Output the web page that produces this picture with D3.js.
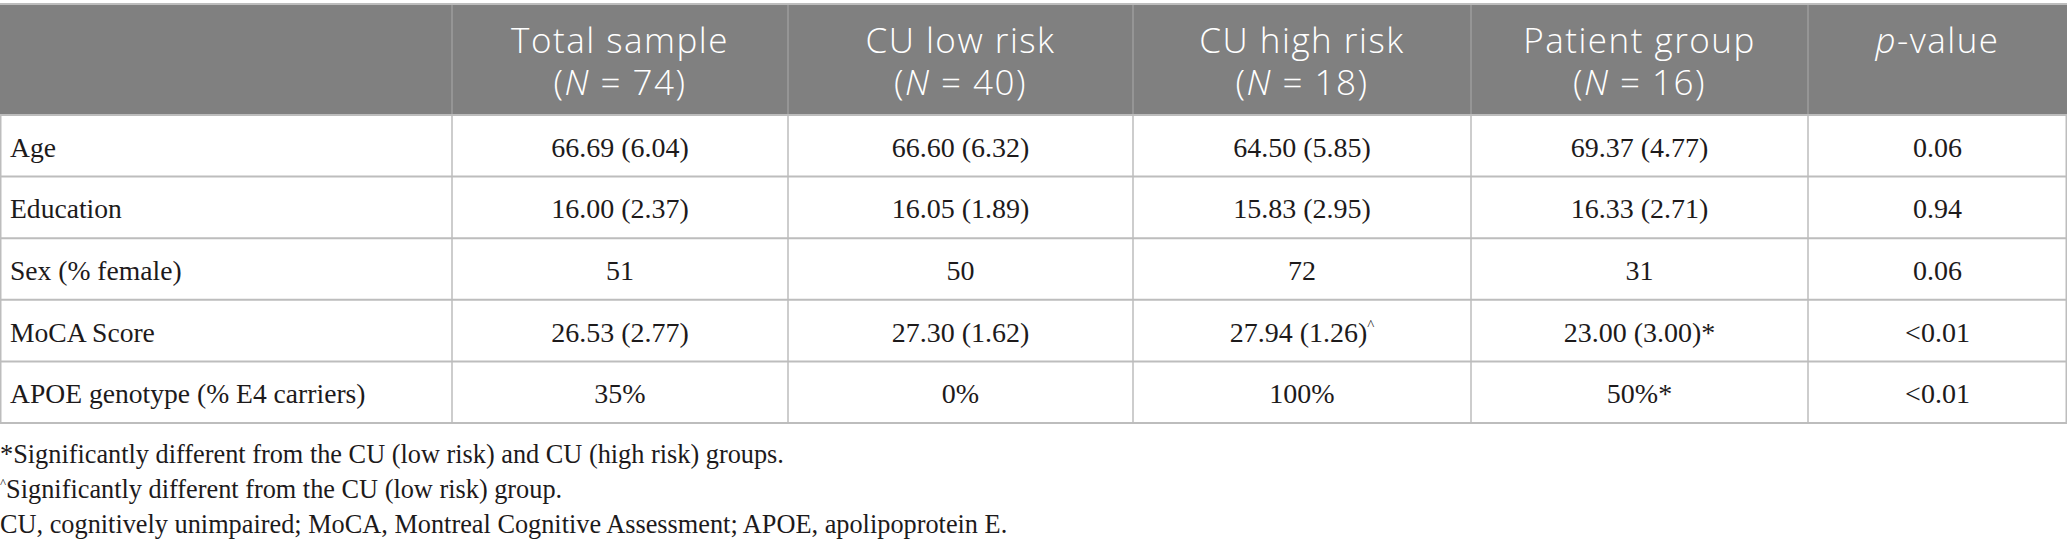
<!DOCTYPE html>
<html>
<head>
<meta charset="utf-8">
<script src="https://d3js.org/d3.v7.min.js"></script>
<style>
  html, body { margin: 0; padding: 0; background: #fff; }
  svg { display: block; }
  .head { font-family: 'Open Sans', 'Noto Sans', sans-serif; font-size: 35px; font-weight: 300; fill: #fff; letter-spacing: 1.5px; }
  .cell { font-family: 'Liberation Serif', 'Times New Roman', serif; font-size: 28px; fill: #1d1a1b; }
  .label { font-family: 'Liberation Serif', 'Times New Roman', serif; font-size: 27.6px; fill: #1d1a1b; }
  .note { font-family: 'Liberation Serif', 'Times New Roman', serif; font-size: 26.3px; fill: #1d1a1b; }
</style>
</head>
<body>
<svg id="table" width="2067" height="550"></svg>
<script>
// table contents
const columns = ['Total sample', 'CU low risk', 'CU high risk', 'Patient group', 'p-value'];
const groupN = [74, 40, 18, 16, null];
const rowLabels = ['Age', 'Education', 'Sex (% female)', 'MoCA Score', 'APOE genotype (% E4 carriers)'];
const totalSample = ['66.69 (6.04)', '16.00 (2.37)', '51', '26.53 (2.77)', '35%'];
const cuLowRisk = ['66.60 (6.32)', '16.05 (1.89)', '50', '27.30 (1.62)', '0%'];
const cuHighRisk = ['64.50 (5.85)', '15.83 (2.95)', '72', '27.94 (1.26)', '100%'];
const patientGroup = ['69.37 (4.77)', '16.33 (2.71)', '31', '23.00 (3.00)', '50%'];
const pValues = ['0.06', '0.94', '0.06', '<0.01', '<0.01'];
// significance marks appended after a value
const cuHighMarks = ['', '', '', '^', ''];
const patientMarks = ['', '', '', '*', '*'];
const footnotes = [
  { mark: '*', text: 'Significantly different from the CU (low risk) and CU (high risk) groups.' },
  { mark: '^', text: 'Significantly different from the CU (low risk) group.' },
  { mark: '', text: 'CU, cognitively unimpaired; MoCA, Montreal Cognitive Assessment; APOE, apolipoprotein E.' }
];

// layout
const W = 2067;
const colWidths = [452, 336, 345, 338, 337, 259];
const tableTop = 4, headBottom = 115, tableBottom = 423;
const lineColor = '#bdbdbd';

const svg = d3.select('#table');

const edges = [0];
colWidths.forEach(w => edges.push(edges[edges.length - 1] + w));
edges[edges.length - 1] = W;
const colX = d3.scaleOrdinal().domain(['label'].concat(columns)).range(edges.slice(0, -1));
const colW = i => edges[i + 1] - edges[i];

const y = d3.scaleBand().domain(rowLabels).range([headBottom, tableBottom]);

const values = [totalSample, cuLowRisk, cuHighRisk, patientGroup, pValues];
const marks = [null, null, cuHighMarks, patientMarks, null];

// header background
svg.append('rect')
  .attr('x', 0).attr('y', tableTop)
  .attr('width', W).attr('height', headBottom - tableTop)
  .attr('fill', '#808080');

// header vertical separators
svg.append('g').selectAll('line')
  .data(edges.slice(1, -1))
  .join('line')
  .attr('x1', d => d).attr('x2', d => d)
  .attr('y1', tableTop).attr('y2', headBottom)
  .attr('stroke', '#9c9c9c').attr('stroke-width', 1.5);

// header text, two lines per group column
const headG = svg.append('g');
columns.forEach((d, i) => {
  const cx = colX(d) + colW(i + 1) / 2;
  const t1 = headG.append('text')
    .attr('class', 'head')
    .attr('text-anchor', 'middle')
    .attr('x', cx).attr('y', 53);
  if (d === 'p-value') {
    t1.append('tspan').attr('font-style', 'italic').text('p');
    t1.append('tspan').text('-value');
    return;
  }
  t1.text(d);
  const t2 = headG.append('text')
    .attr('class', 'head')
    .attr('text-anchor', 'middle')
    .attr('x', cx).attr('y', 95);
  t2.append('tspan').text('(');
  t2.append('tspan').attr('font-style', 'italic').text('N');
  t2.append('tspan').text(' = ' + groupN[i] + ')');
});

// body grid: horizontal lines
const hLines = [tableTop, headBottom].concat(rowLabels.map(r => y(r) + y.bandwidth()));
svg.append('g').selectAll('line')
  .data(hLines)
  .join('line')
  .attr('x1', 0).attr('x2', W)
  .attr('y1', d => d).attr('y2', d => d)
  .attr('stroke', lineColor).attr('stroke-width', 2);

// body grid: vertical lines
svg.append('g').selectAll('line')
  .data(edges)
  .join('line')
  .attr('x1', d => Math.min(Math.max(d, 0.75), W - 0.75))
  .attr('x2', d => Math.min(Math.max(d, 0.75), W - 0.75))
  .attr('y1', headBottom).attr('y2', tableBottom)
  .attr('stroke', lineColor).attr('stroke-width', 1.5);

// row labels
svg.append('g').selectAll('text')
  .data(rowLabels)
  .join('text')
  .attr('class', 'label')
  .attr('x', 10)
  .attr('y', d => y(d) + y.bandwidth() / 2 + 11)
  .text(d => d);

// cell values
columns.forEach((c, ci) => {
  const g = svg.append('g');
  g.selectAll('text')
    .data(values[ci])
    .join('text')
    .attr('class', 'cell')
    .attr('text-anchor', 'middle')
    .attr('x', colX(c) + colW(ci + 1) / 2)
    .attr('y', (d, ri) => y(rowLabels[ri]) + y.bandwidth() / 2 + 11)
    .each(function(d, ri) {
      const t = d3.select(this);
      t.append('tspan').text(d);
      const m = marks[ci] ? marks[ci][ri] : '';
      if (m === '^') {
        t.append('tspan').attr('font-size', '15px').attr('dy', -12).text('^');
      } else if (m) {
        t.append('tspan').text(m);
      }
    });
});

// footnotes
const noteY = d3.scaleBand().domain(d3.range(footnotes.length)).range([438, 543]);
svg.append('g').selectAll('text')
  .data(footnotes)
  .join('text')
  .attr('class', 'note')
  .attr('x', 0)
  .attr('y', (d, i) => noteY(i) + 25)
  .each(function(d) {
    const t = d3.select(this);
    if (d.mark === '^') {
      t.append('tspan').attr('font-size', '13px').attr('dy', -11).text('^');
      t.append('tspan').attr('dy', 11).text(d.text);
    } else {
      t.append('tspan').text(d.mark + d.text);
    }
  });
</script>
</body>
</html>
